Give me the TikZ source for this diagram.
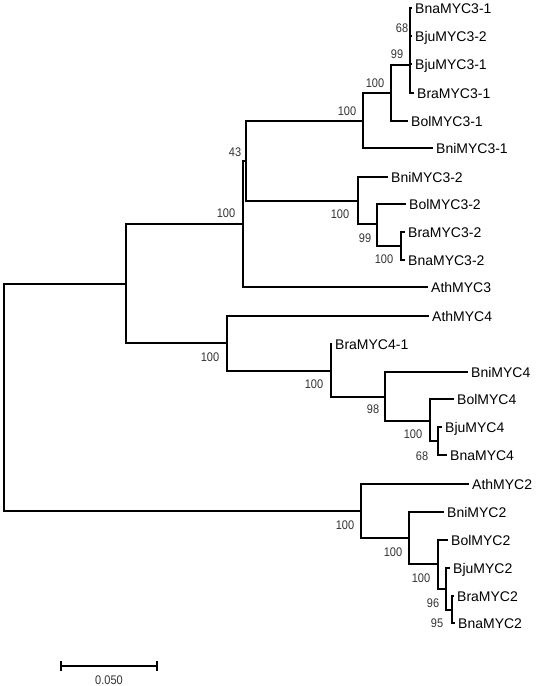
\documentclass[tikz,border=0pt]{standalone}
\usepackage{fontspec}
\setmainfont{Liberation Sans}
\newfontfamily\bsfont[FakeStretch=0.88]{Liberation Sans}
\definecolor{bsgray}{HTML}{333333}
\begin{document}
\begin{tikzpicture}[x=1pt,y=-1pt,
  br/.style={line width=1.6pt,line cap=rect},
  leaf/.style={anchor=base west,inner sep=0pt,xshift=4pt,yshift=-5pt,font=\fontsize{14}{16}\selectfont},
  bs/.style={anchor=base,inner sep=0pt,yshift=-4.5pt,text=bsgray,font=\bsfont\fontsize{12.5}{14}\selectfont}]
\useasboundingbox (0,0) rectangle (536,686);
% internal nodes
\coordinate (root) at (4,511);
\coordinate (n100f) at (126,284);
\coordinate (n100e) at (243,224);
\coordinate (n43) at (246,161);
\coordinate (n100b) at (363,121);
\coordinate (n100a) at (391,93);
\coordinate (n99) at (410,65);
\coordinate (n68) at (410,22);
\coordinate (n100c) at (358,201);
\coordinate (n99b) at (377,224);
\coordinate (n100d) at (401,246);
\coordinate (n100g) at (227,343);
\coordinate (n100h) at (331,371);
\coordinate (n98) at (385,397);
\coordinate (n100i) at (430,421);
\coordinate (n68b) at (438,441);
\coordinate (n100j) at (361,511);
\coordinate (n100k) at (409,538);
\coordinate (n100l) at (438,564);
\coordinate (n96) at (446,589);
\coordinate (n95) at (452,610);
% tips
\coordinate (tBna31) at (411,8);
\coordinate (tBju32) at (411,36);
\coordinate (tBju31) at (411,64);
\coordinate (tBra31) at (413,93);
\coordinate (tBol31) at (407,121);
\coordinate (tBni31) at (432,148);
\coordinate (tBni32) at (387,177);
\coordinate (tBol32) at (405,204);
\coordinate (tBra32) at (404,232);
\coordinate (tBna32) at (404,260);
\coordinate (tAth3) at (427,287);
\coordinate (tAth4) at (428,316);
\coordinate (tBra41) at (331,344);
\coordinate (tBni4) at (467,372);
\coordinate (tBol4) at (453,399);
\coordinate (tBju4) at (441,427);
\coordinate (tBna4) at (446,455);
\coordinate (tAth2) at (468,484);
\coordinate (tBni2) at (443,512);
\coordinate (tBol2) at (447,540);
\coordinate (tBju2) at (449,568);
\coordinate (tBra2) at (453,596);
\coordinate (tBna2) at (454,623);
% branches
\draw[br] (root) |- (n100f);
\draw[br] (root) |- (n100j);
\draw[br] (n100f) |- (n100e);
\draw[br] (n100f) |- (n100g);
\draw[br] (n100e) |- (n43);
\draw[br] (n100e) |- (tAth3);
\draw[br] (n43) |- (n100b);
\draw[br] (n43) |- (n100c);
\draw[br] (n100b) |- (n100a);
\draw[br] (n100b) |- (tBni31);
\draw[br] (n100a) |- (n99);
\draw[br] (n100a) |- (tBol31);
\draw[br] (n99) |- (n68);
\draw[br] (n99) |- (tBju31);
\draw[br] (n99) |- (tBra31);
\draw[br] (n68) |- (tBna31);
\draw[br] (n68) |- (tBju32);
\draw[br] (n100c) |- (tBni32);
\draw[br] (n100c) |- (n99b);
\draw[br] (n99b) |- (tBol32);
\draw[br] (n99b) |- (n100d);
\draw[br] (n100d) |- (tBra32);
\draw[br] (n100d) |- (tBna32);
\draw[br] (n100g) |- (tAth4);
\draw[br] (n100g) |- (n100h);
\draw[br] (n100h) |- (tBra41);
\draw[br] (n100h) |- (n98);
\draw[br] (n98) |- (tBni4);
\draw[br] (n98) |- (n100i);
\draw[br] (n100i) |- (tBol4);
\draw[br] (n100i) |- (n68b);
\draw[br] (n68b) |- (tBju4);
\draw[br] (n68b) |- (tBna4);
\draw[br] (n100j) |- (tAth2);
\draw[br] (n100j) |- (n100k);
\draw[br] (n100k) |- (tBni2);
\draw[br] (n100k) |- (n100l);
\draw[br] (n100l) |- (tBol2);
\draw[br] (n100l) |- (n96);
\draw[br] (n96) |- (tBju2);
\draw[br] (n96) |- (n95);
\draw[br] (n95) |- (tBra2);
\draw[br] (n95) |- (tBna2);
% leaf labels
\node[leaf] (lBna31) at (tBna31) {BnaMYC3-1};
\node[leaf] (lBju32) at (tBju32) {BjuMYC3-2};
\node[leaf] (lBju31) at (tBju31) {BjuMYC3-1};
\node[leaf] (lBra31) at (tBra31) {BraMYC3-1};
\node[leaf] (lBol31) at (tBol31) {BolMYC3-1};
\node[leaf] (lBni31) at (tBni31) {BniMYC3-1};
\node[leaf] (lBni32) at (tBni32) {BniMYC3-2};
\node[leaf] (lBol32) at (tBol32) {BolMYC3-2};
\node[leaf] (lBra32) at (tBra32) {BraMYC3-2};
\node[leaf] (lBna32) at (tBna32) {BnaMYC3-2};
\node[leaf] (lAth3) at (tAth3) {AthMYC3};
\node[leaf] (lAth4) at (tAth4) {AthMYC4};
\node[leaf] (lBra41) at (tBra41) {BraMYC4-1};
\node[leaf] (lBni4) at (tBni4) {BniMYC4};
\node[leaf] (lBol4) at (tBol4) {BolMYC4};
\node[leaf] (lBju4) at (tBju4) {BjuMYC4};
\node[leaf] (lBna4) at (tBna4) {BnaMYC4};
\node[leaf] (lAth2) at (tAth2) {AthMYC2};
\node[leaf] (lBni2) at (tBni2) {BniMYC2};
\node[leaf] (lBol2) at (tBol2) {BolMYC2};
\node[leaf] (lBju2) at (tBju2) {BjuMYC2};
\node[leaf] (lBra2) at (tBra2) {BraMYC2};
\node[leaf] (lBna2) at (tBna2) {BnaMYC2};
% bootstrap values
\node[bs] (b68) at (402,28) {68};
\node[bs] (b99) at (397,54) {99};
\node[bs] (b100a) at (375,83) {100};
\node[bs] (b100b) at (347,111) {100};
\node[bs] (b43) at (235,152) {43};
\node[bs] (b100e) at (226,213) {100};
\node[bs] (b100c) at (340,214) {100};
\node[bs] (b99b) at (365,238) {99};
\node[bs] (b100d) at (384,259) {100};
\node[bs] (b100g) at (210,357) {100};
\node[bs] (b100h) at (314,384) {100};
\node[bs] (b98) at (373,409) {98};
\node[bs] (b100i) at (413,434) {100};
\node[bs] (b68b) at (422,456) {68};
\node[bs] (b100j) at (345,525) {100};
\node[bs] (b100k) at (393,552) {100};
\node[bs] (b100l) at (421,578) {100};
\node[bs] (b96) at (433,603) {96};
\node[bs] (b95) at (437,623) {95};
% scale bar
\coordinate (sbL) at (61,666);
\coordinate (sbR) at (157,666);
\draw[br,line cap=butt] (sbL) -- (sbR);
\draw[br,line cap=butt] ([yshift=5pt]sbL) -- ([yshift=-5pt]sbL);
\draw[br,line cap=butt] ([yshift=5pt]sbR) -- ([yshift=-5pt]sbR);
\node[bs] (sblab) at (109,680) {0.050};
\end{tikzpicture}
\end{document}
